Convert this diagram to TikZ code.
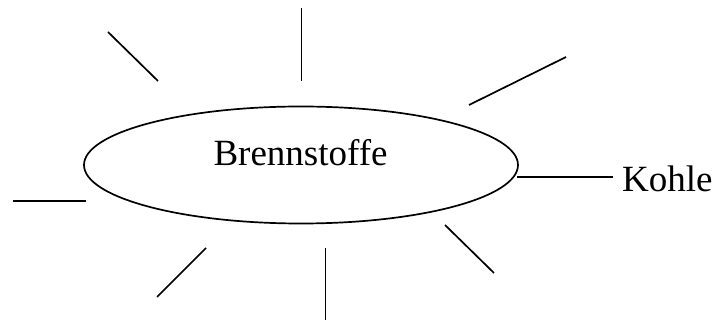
\documentclass[tikz,border=0pt]{standalone}
\usepackage{fontspec}
\setmainfont{Liberation Serif}
\usetikzlibrary{shapes.geometric}
\begin{document}
\begin{tikzpicture}[x=1pt,y=-1pt,
  ray/.style={line width=1.7pt},
  bubble/.style={ellipse,draw,line width=1.7pt,minimum width=434pt,minimum height=117pt,inner sep=0pt},
  txt/.style={inner sep=0pt,font=\fontsize{37}{44}\selectfont}]
\useasboundingbox (0,0) rectangle (715,320);
\node[bubble] (b) at (301,165) {};
\node[txt] (bt) at (300.5,152.5) {Brennstoffe};
\node[txt,inner xsep=9pt,anchor=base west] (k) at (613,192) {Kohle};
% rays
\coordinate (t1) at (301.5,8);   \coordinate (t2) at (301.5,81);
\coordinate (ul1) at (108,32);   \coordinate (ul2) at (158,81);
\coordinate (ur1) at (469,105);  \coordinate (ur2) at (566,57);
\coordinate (l1) at (13,201);    \coordinate (l2) at (86,201);
\coordinate (ll1) at (157,297);  \coordinate (ll2) at (206,248);
\coordinate (bo1) at (325.5,248);\coordinate (bo2) at (325.5,320);
\coordinate (lr1) at (445,225);  \coordinate (lr2) at (494,273);
\coordinate (k1) at (517,177);
\draw[ray] (t1) -- (t2);
\draw[ray] (ul1) -- (ul2);
\draw[ray] (ur1) -- (ur2);
\draw[ray] (l1) -- (l2);
\draw[ray] (ll1) -- (ll2);
\draw[ray] (bo1) -- (bo2);
\draw[ray] (lr1) -- (lr2);
\draw[ray] (k1) -- (k1 -| k.west);
\end{tikzpicture}
\end{document}
